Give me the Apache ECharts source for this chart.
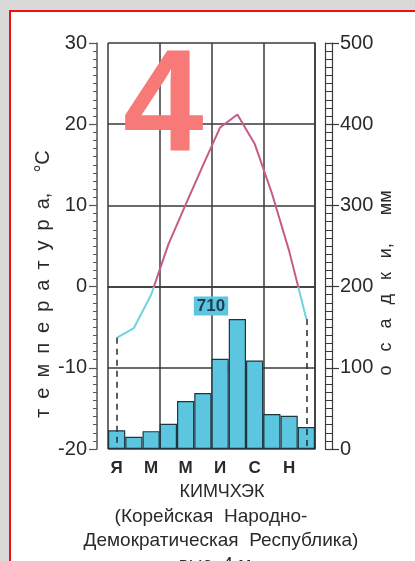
<!DOCTYPE html>
<html>
<head>
<meta charset="utf-8">
<script src="https://cdn.jsdelivr.net/npm/echarts@6/dist/echarts.min.js"></script>
<style>
html,body{margin:0;padding:0;background:#d9d9d9;}
#frame{position:absolute;left:9px;top:10px;width:420px;height:560px;background:#fff;border:2px solid #f01010;box-sizing:border-box;}
#chart{position:absolute;left:0;top:0;width:415px;height:561px;}
</style>
</head>
<body>
<div id="frame"></div>
<div id="chart"></div>
<script>
const months = ['Я','Ф','М','А','М','И','И','А','С','О','Н','Д'];
const temperature = [-6.3, -5.1, -1.0, 5.2, 10.1, 14.9, 19.6, 21.2, 17.6, 11.5, 4.4, -4.0];
const precipitation = [23, 15, 22, 31, 59, 69, 111, 160, 109, 43, 41, 27];
const tempTicks = [-20, -10, 0, 10, 20, 30];
const precipTicks = [0, 100, 200, 300, 400, 500];
const stationName = 'КИМЧХЭК';
const countryLine1 = '(Корейская  Народно-';
const countryLine2 = 'Демократическая  Республика)';
const heightLine = 'выс. 4 м';
const tempName = 'т е м п е р а т у р а,  °C';
const precipName = 'о с а д к и,  мм';
const annualTotal = precipitation.reduce((a, b) => a + b, 0);

const FONT = "'Liberation Sans', Arial, sans-serif";
const INK = '#2a2a2a';
const GRID = '#3a3a3a';
const WARM = '#c65b8a';
const COLD = '#6fd3dc';

const chart = echarts.init(document.getElementById('chart'), null, {renderer: 'canvas'});
const spaced = s => s.split(' ').join('\u2002');
const spacedR = s => s.split(' ').join('\u2002 ');

const dropLines = [0, months.length - 1].map(i => [
  {coord: [i, temperature[i]]}, {coord: [i, tempTicks[0]]}
]);

chart.setOption({
  animation: false,
  backgroundColor: 'transparent',
  grid: {left: 108, right: 100, top: 43, bottom: 112, show: false},
  xAxis: [{
    type: 'category',
    data: months,
    boundaryGap: true,
    axisLine: {show: true, lineStyle: {color: GRID, width: 1.5}},
    axisTick: {show: false},
    axisLabel: {interval: 1, color: INK, fontFamily: FONT, fontSize: 17, fontWeight: 'bold', margin: 11},
    splitLine: {show: true, interval: 2, lineStyle: {color: GRID, width: 1.5}}
  }],
  yAxis: [{
    type: 'value', min: tempTicks[0], max: tempTicks[tempTicks.length - 1], interval: 10,
    position: 'left', offset: 11,
    axisLine: {show: true, lineStyle: {color: '#555', width: 1.5}},
    axisTick: {show: true, length: 8, lineStyle: {color: '#555', width: 1.2}},
    minorTick: {show: true, splitNumber: 10, length: 4, lineStyle: {color: '#555', width: 1}},
    axisLabel: {color: INK, fontFamily: FONT, fontSize: 20, margin: 10},
    splitLine: {show: true, lineStyle: {color: GRID, width: 1.5}}
  }, {
    type: 'value', min: precipTicks[0], max: precipTicks[precipTicks.length - 1], interval: 100,
    position: 'right', offset: 10,
    axisLine: {show: true, lineStyle: {color: GRID, width: 1.2}},
    axisTick: {show: true, length: 14, lineStyle: {color: GRID, width: 1.2}},
    minorTick: {show: true, splitNumber: 10, length: 7, lineStyle: {color: GRID, width: 1}},
    axisLabel: {color: INK, fontFamily: FONT, fontSize: 20, margin: 15},
    splitLine: {show: false}
  }, {
    type: 'value', min: precipTicks[0], max: precipTicks[precipTicks.length - 1], interval: 100,
    position: 'right', offset: 17,
    axisLine: {show: true, lineStyle: {color: GRID, width: 1.2}},
    axisTick: {show: false},
    axisLabel: {show: false},
    splitLine: {show: false}
  }, {
    type: 'value', min: precipTicks[0], max: precipTicks[precipTicks.length - 1], interval: 100,
    position: 'right', offset: 0,
    axisLine: {show: true, lineStyle: {color: GRID, width: 1.5}},
    axisTick: {show: false},
    axisLabel: {show: false},
    splitLine: {show: false}
  }],
  series: [{
    type: 'bar',
    yAxisIndex: 1,
    data: precipitation,
    barWidth: '100%',
    barCategoryGap: 0,
    itemStyle: {color: '#5cc6e0', borderColor: '#1e3640', borderWidth: 1.2},
    z: 2
  }, {
    id: 'temp',
    type: 'line',
    yAxisIndex: 0,
    data: temperature,
    symbol: 'none',
    lineStyle: {width: 2, color: WARM},
    z: 4
  }, {
    type: 'line',
    yAxisIndex: 0,
    data: temperature,
    symbol: 'none',
    lineStyle: {opacity: 0},
    z: 5,
    markLine: {
      silent: true,
      symbol: 'none',
      label: {show: false},
      lineStyle: {color: '#2a2a2a', type: [6, 5], width: 1.5},
      data: dropLines
    }
  }],
  graphic: [
    {type: 'text', left: 123, top: 38, z: 100,
      style: {text: '4', fill: '#f77a78', font: "bold 145px 'Liberation Sans', Arial, sans-serif"}},
    {type: 'text', x: 211, y: 306, z: 10,
      style: {text: String(annualTotal), fill: '#1c3f52', font: "bold 17px 'Liberation Sans', Arial, sans-serif",
        align: 'center', verticalAlign: 'middle', backgroundColor: '#5cc6e0', padding: [1, 3]}},
    {type: 'text', x: 43, y: 284, rotation: Math.PI / 2, z: 10,
      style: {text: spaced(tempName), fill: INK, font: "20px 'Liberation Sans', Arial, sans-serif",
        align: 'center', verticalAlign: 'middle'}},
    {type: 'text', x: 386, y: 283, rotation: Math.PI / 2, z: 10,
      style: {text: spacedR(precipName), fill: INK, font: "18px 'Liberation Sans', Arial, sans-serif",
        align: 'center', verticalAlign: 'middle'}},
    {type: 'text', x: 222, y: 492, z: 10,
      style: {text: stationName, fill: INK, font: "18px 'Liberation Sans', Arial, sans-serif", align: 'center', verticalAlign: 'middle'}},
    {type: 'text', x: 211, y: 517, z: 10,
      style: {text: countryLine1, fill: INK, font: "19px 'Liberation Sans', Arial, sans-serif", align: 'center', verticalAlign: 'middle'}},
    {type: 'text', x: 221, y: 541, z: 10,
      style: {text: countryLine2, fill: INK, font: "19px 'Liberation Sans', Arial, sans-serif", align: 'center', verticalAlign: 'middle'}},
    {type: 'text', x: 215, y: 565, z: 10,
      style: {text: heightLine, fill: INK, font: "19px 'Liberation Sans', Arial, sans-serif", align: 'center', verticalAlign: 'middle'}}
  ]
});

// colour the temperature line cyan below 0 °C and pink above, split at the zero line
const zeroY = chart.convertToPixel({yAxisIndex: 0}, 0);
const H = chart.getHeight();
const f = zeroY / H;
chart.setOption({
  series: [{
    id: 'temp',
    lineStyle: {
      color: new echarts.graphic.LinearGradient(0, 0, 0, H, [
        {offset: 0, color: WARM}, {offset: f, color: WARM},
        {offset: f, color: COLD}, {offset: 1, color: COLD}
      ], true)
    }
  }]
});
</script>
</body>
</html>
